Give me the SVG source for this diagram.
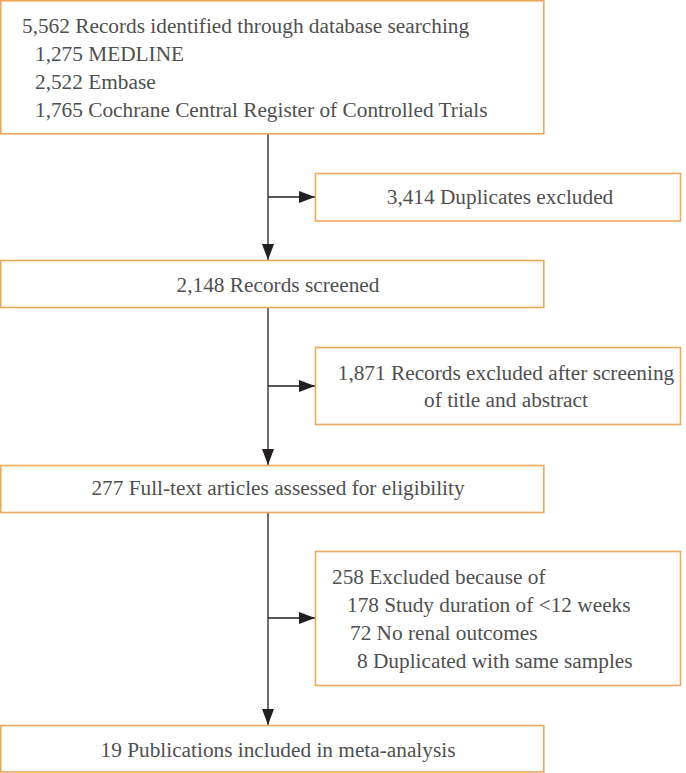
<svg xmlns="http://www.w3.org/2000/svg" width="686" height="773" viewBox="0 0 686 773">
<defs>
<style>
.box{fill:#ffffff;stroke:#eea85a;stroke-width:1.6}
.t{font-family:'Liberation Serif','Tinos','DejaVu Serif',serif;font-size:21.3px;fill:#4f4f4f}
.c{stroke:#231f20;stroke-width:1.3;fill:none}
</style>
<marker id="ah" markerUnits="userSpaceOnUse" markerWidth="17" markerHeight="12" refX="16" refY="6" orient="auto">
<path d="M0,0 L16,6 L0,12 Z" fill="#231f20"/>
</marker>
</defs>
<rect width="686" height="773" fill="#ffffff"/>
<g id="connectors">
<line class="c" x1="268" y1="134" x2="268" y2="260" marker-end="url(#ah)"/>
<line class="c" x1="268" y1="197" x2="315" y2="197" marker-end="url(#ah)"/>
<line class="c" x1="268" y1="308" x2="268" y2="465" marker-end="url(#ah)"/>
<line class="c" x1="268" y1="386" x2="315" y2="386" marker-end="url(#ah)"/>
<line class="c" x1="268" y1="512" x2="268" y2="725" marker-end="url(#ah)"/>
<line class="c" x1="268" y1="618" x2="315" y2="618" marker-end="url(#ah)"/>
</g>
<g id="identified">
<rect class="box" x="0.8" y="0.8" width="543" height="133"/>
<text class="t" x="22" y="33">5,562 Records identified through database searching</text>
<text class="t" x="35" y="61">1,275 MEDLINE</text>
<text class="t" x="35" y="89">2,522 Embase</text>
<text class="t" x="35" y="117">1,765 Cochrane Central Register of Controlled Trials</text>
</g>
<g id="duplicates">
<rect class="box" x="315.5" y="173.5" width="365" height="47.5"/>
<text class="t" x="500" y="204" text-anchor="middle">3,414 Duplicates excluded</text>
</g>
<g id="screened">
<rect class="box" x="0.8" y="260.5" width="543" height="47"/>
<text class="t" x="278" y="292" text-anchor="middle">2,148 Records screened</text>
</g>
<g id="excluded1">
<rect class="box" x="315.5" y="347.5" width="365" height="77"/>
<text class="t" x="506" y="380" text-anchor="middle">1,871 Records excluded after screening</text>
<text class="t" x="506" y="407" text-anchor="middle">of title and abstract</text>
</g>
<g id="fulltext">
<rect class="box" x="0.8" y="465.5" width="543" height="47"/>
<text class="t" x="278" y="495" text-anchor="middle">277 Full-text articles assessed for eligibility</text>
</g>
<g id="excluded2">
<rect class="box" x="315.5" y="551.5" width="365" height="134"/>
<text class="t" x="332" y="584">258 Excluded because of</text>
<text class="t" x="347" y="612">178 Study duration of &lt;12 weeks</text>
<text class="t" x="350" y="640">72 No renal outcomes</text>
<text class="t" x="357" y="668">8 Duplicated with same samples</text>
</g>
<g id="included">
<rect class="box" x="0.8" y="725.5" width="543" height="46.5"/>
<text class="t" x="278" y="757" text-anchor="middle">19 Publications included in meta-analysis</text>
</g>
</svg>
